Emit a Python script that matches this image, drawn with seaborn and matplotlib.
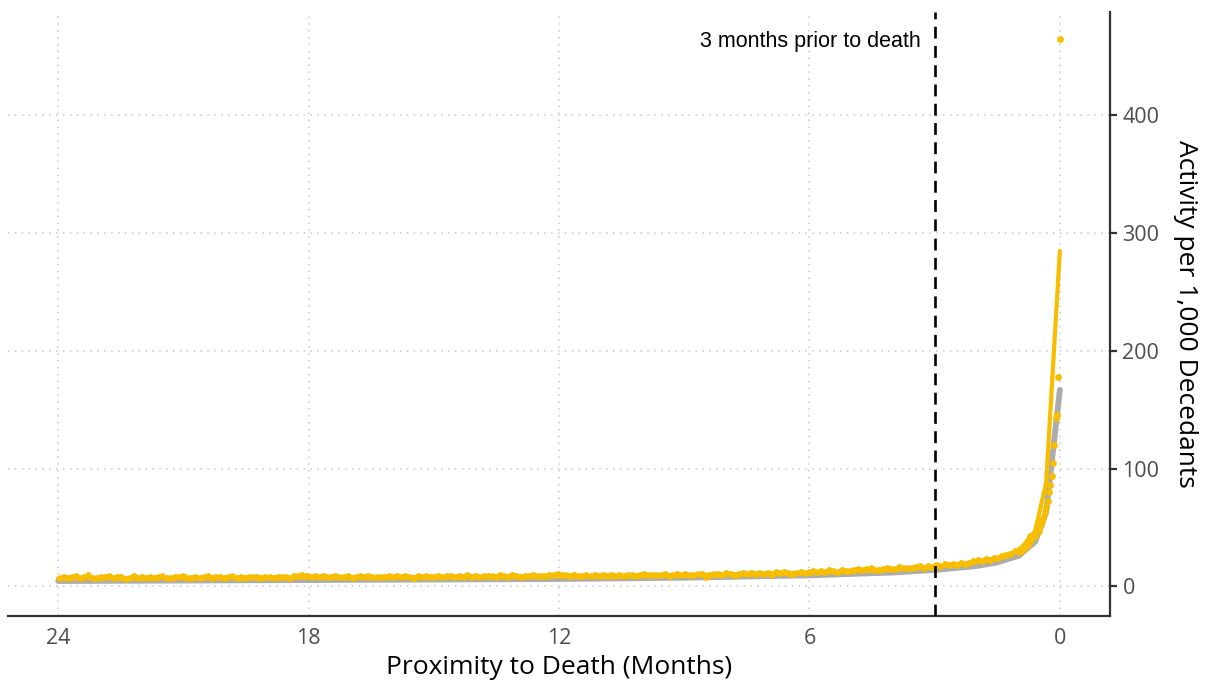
import matplotlib
matplotlib.use("Agg")
import matplotlib.pyplot as plt
import numpy as np
import pandas as pd
import seaborn as sns

# daily activity, every 3rd day from 729 days before death down to day 30
early_days = np.arange(729, 29, -3)
early_vals = [
    7.2, 8.4, 6.9, 7.8, 8.9, 7.1, 7.6, 9.3, 7.4, 6.8, 8.1, 7.7, 8.6,
    7.0, 7.9, 8.3, 6.7, 7.5, 8.8, 7.2, 7.6, 6.9, 8.2, 7.4, 7.9, 8.5,
    7.3, 6.8, 8.0, 7.7, 9.1, 7.2, 7.5, 8.3, 7.0, 7.8, 8.6, 7.4, 7.9,
    8.1, 7.3, 7.6, 9.0, 7.5, 8.2, 7.1, 7.9, 8.4, 7.6, 6.9, 8.0, 7.8,
    7.4, 8.3, 7.7, 8.0, 7.2, 8.6, 9.2, 9.8, 9.1, 8.4, 8.9, 7.8, 8.5,
    8.2, 7.6, 8.8, 8.1, 7.9, 8.5, 7.4, 8.3, 9.0, 7.8, 8.6, 8.0, 7.7,
    8.4, 7.9, 8.7, 8.1, 9.2, 7.8, 8.5, 8.0, 7.3, 8.9, 8.3, 8.6, 7.9,
    8.2, 8.8, 8.0, 9.1, 8.5, 7.7, 8.6, 8.3, 9.4, 8.1, 8.7, 8.4, 8.9,
    8.5, 9.0, 8.3, 9.3, 8.8, 8.1, 9.5, 8.7, 8.4, 9.1, 8.6, 9.7, 8.9,
    9.2, 8.7, 9.4, 9.9, 10.6, 9.8, 9.3, 8.9, 9.6, 9.1, 8.6, 9.5, 9.0,
    9.4, 8.8, 9.7, 9.2, 10.1, 8.9, 9.5, 9.0, 9.8, 9.3, 8.7, 9.6, 10.2,
    9.5, 10.1, 9.3, 9.9, 10.6, 9.2, 9.8, 10.3, 9.6, 10.8, 9.4, 10.0, 10.5,
    10.2, 8.1, 9.6, 10.5, 10.9, 10.1, 11.2, 10.4, 9.9, 10.8, 11.3, 10.6, 11.0,
    10.9, 11.6, 10.7, 11.4, 9.8, 11.9, 11.1, 12.2, 11.5, 10.8, 11.8, 12.4, 11.6,
    12.1, 12.8, 12.4, 13.2, 12.0, 13.6, 13.0, 12.6, 14.1, 13.3, 12.9, 13.8, 14.4,
    13.9, 14.6, 15.3, 14.2, 13.6, 14.9, 15.7, 15.1, 14.4, 16.2, 15.5, 16.0, 15.3,
    16.4, 17.1, 16.0, 17.5, 16.8, 18.2, 17.4, 18.8, 17.9, 19.3, 18.5, 20.1, 19.4,
    20.3, 21.2, 22.4, 21.6, 23.1, 22.5, 24.4, 23.8, 25.6, 26.9, 27.4, 30.3, 29.2,
]

# last month, every day (29 -> 0)
tail_days = np.arange(29, -1, -1)
tail_vals = [31.5, 30.2, 33.0, 32.1, 34.4, 36.0, 35.2, 42.5, 39.8, 41.0,
             44.6, 43.2, 46.8, 49.5, 47.3, 52.1, 55.8, 58.4, 63.0, 67.5,
             72.9, 80.4, 86.1, 94.2, 104.6, 120.3, 142.8, 145.5, 178.2, 465.0]

# fitted lines
line_days = [730, 547, 365, 274, 182, 122, 91, 61, 46, 30, 18, 10, 0]
yellow_line = [7.0, 7.6, 8.6, 9.6, 11.5, 14.0, 16.5, 20.5, 24.0, 30.0, 47.0, 88.0, 285.0]
gray_line = [4.6, 5.4, 6.3, 7.4, 9.4, 11.8, 14.0, 17.3, 20.3, 26.0, 38.0, 63.0, 167.0]

DAYS_PER_MONTH = 30.42
YELLOW = "#F7BD00"
GRAY = "#A3A3A3"

points = pd.DataFrame({
    "months": np.concatenate([early_days, tail_days]) / DAYS_PER_MONTH,
    "activity": early_vals + tail_vals,
})
lines = pd.DataFrame({
    "months": np.array(line_days) / DAYS_PER_MONTH,
    "yellow": yellow_line,
    "gray": gray_line,
})

sns.set_style("white")
plt.rcParams["font.family"] = ["Open Sans", "DejaVu Sans"]

fig = plt.figure(figsize=(12.12, 6.82), dpi=100)
ax = fig.add_axes([0.0066, 0.097, 0.9092, 0.8856])

sns.lineplot(data=lines, x="months", y="gray", color=GRAY, linewidth=4.2,
             alpha=0.9, sort=False, ax=ax)
sns.lineplot(data=lines, x="months", y="yellow", color=YELLOW, linewidth=3.0,
             sort=False, ax=ax)
sns.scatterplot(data=points, x="months", y="activity", color=YELLOW, s=24,
                linewidth=0, ax=ax, zorder=3)

ax.axvline(3, color="black", linestyle=(0, (4.5, 2.8)), linewidth=1.9, zorder=4)
ax.text(3.33, 463, "3 months prior to death", ha="right", va="center",
        fontsize=15.5, family=["Liberation Sans", "DejaVu Sans"], color="black")

ax.set_xlim(25.2, -1.2)
ax.set_ylim(-25, 488)
ax.set_xticks([24, 18, 12, 6, 0])
ax.set_yticks([0, 100, 200, 300, 400])

ax.yaxis.tick_right()
ax.yaxis.set_label_position("right")
ax.set_xlabel("Proximity to Death (Months)", fontsize=19, color="black", labelpad=4)
ax.set_ylabel("Activity per 1,000 Decedants", fontsize=19, color="black",
              rotation=270, labelpad=28)

ax.grid(True, linestyle=(0, (1, 3.5)), color="#C8C8C8", linewidth=1.1)
ax.set_axisbelow(True)

for side in ["top", "left"]:
    ax.spines[side].set_visible(False)
for side in ["bottom", "right"]:
    ax.spines[side].set_color("#333333")
    ax.spines[side].set_linewidth(1.6)

ax.tick_params(axis="both", which="both", length=5, width=1.6, color="#333333",
               labelsize=15.5, labelcolor="#4D4D4D", direction="out")
ax.tick_params(axis="y", left=False, right=True, labelleft=False, labelright=True, pad=4)
ax.tick_params(axis="x", pad=4)

fig.savefig("out.png", dpi=100)
